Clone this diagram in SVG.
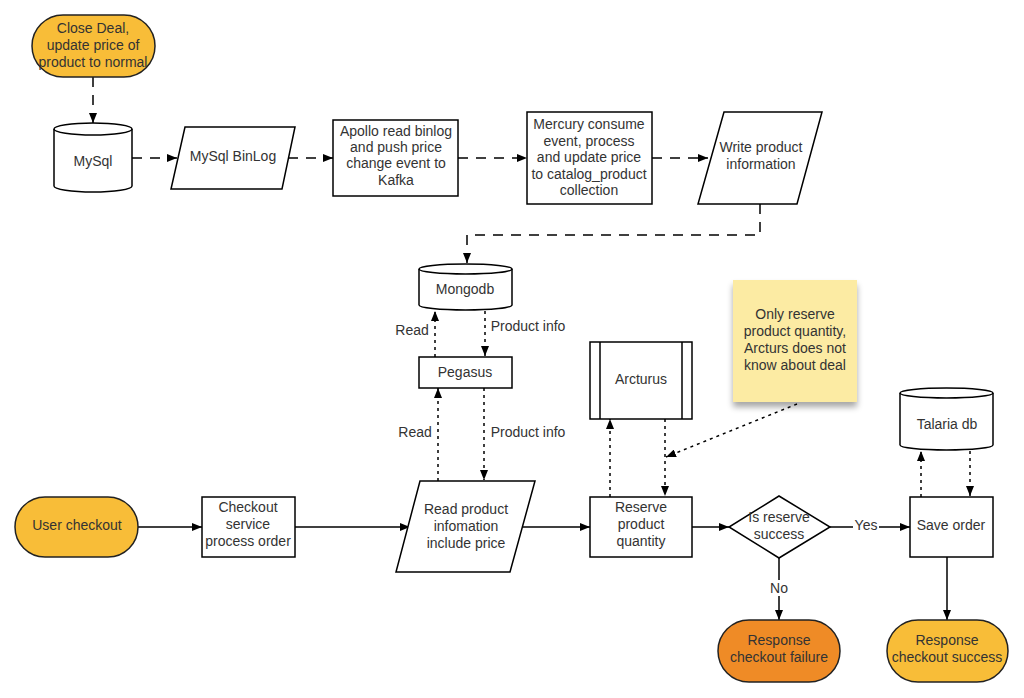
<svg xmlns="http://www.w3.org/2000/svg" width="1024" height="698" viewBox="0 0 1024 698">
<defs>
<marker id="ah" viewBox="0 0 10 8" refX="10" refY="4" markerWidth="10" markerHeight="8" markerUnits="userSpaceOnUse" orient="auto">
<path d="M0,0 L10,4 L0,8 Z" fill="#000"/>
</marker>
<filter id="sh" x="-20%" y="-20%" width="140%" height="150%">
<feGaussianBlur in="SourceAlpha" stdDeviation="3"/>
<feOffset dx="0" dy="5"/>
<feComponentTransfer><feFuncA type="linear" slope="0.35"/></feComponentTransfer>
<feMerge><feMergeNode/><feMergeNode in="SourceGraphic"/></feMerge>
</filter>
</defs>
<style>
.s{fill:#fff;stroke:#000;stroke-width:1.5}
.t{fill:#F8BD38;stroke:#222;stroke-width:1.5}
.o{fill:#EF8B26;stroke:#222;stroke-width:1.5}
text{font-family:"Liberation Sans",Arial,sans-serif;font-size:14px;fill:#333;text-anchor:middle}
.l{fill:none;stroke:#000;stroke-width:1.5}
.d{stroke-dasharray:10,8}
.p{stroke-dasharray:3,4}
</style>
<rect width="1024" height="698" fill="#fff"/>
<g id="connectors">
<path class="l d" d="M93,77 V123" marker-end="url(#ah)"/>
<path class="l d" d="M132,158 H177" marker-end="url(#ah)"/>
<path class="l d" d="M288,158 H333" marker-end="url(#ah)"/>
<path class="l d" d="M458,158 H527" marker-end="url(#ah)"/>
<path class="l d" d="M652,158 H708" marker-end="url(#ah)"/>
<path class="l d" d="M760,204 V235 H467 V263" marker-end="url(#ah)"/>
<path class="l p" d="M435,357 V311" marker-end="url(#ah)"/>
<path class="l p" d="M485,311 V356" marker-end="url(#ah)"/>
<path class="l p" d="M438,481 V388" marker-end="url(#ah)"/>
<path class="l p" d="M484,388 V480" marker-end="url(#ah)"/>
<path class="l p" d="M610,497 V419" marker-end="url(#ah)"/>
<path class="l p" d="M665,419 V496" marker-end="url(#ah)"/>
<path class="l p" d="M797,404 L666,457" marker-end="url(#ah)"/>
<path class="l p" d="M921,497 V451" marker-end="url(#ah)"/>
<path class="l p" d="M970,451 V496" marker-end="url(#ah)"/>
<path class="l" d="M138,527 H202" marker-end="url(#ah)"/>
<path class="l" d="M295,527 H410" marker-end="url(#ah)"/>
<path class="l" d="M523,527 H590" marker-end="url(#ah)"/>
<path class="l" d="M692,527 H729" marker-end="url(#ah)"/>
<path class="l" d="M830,527 H910" marker-end="url(#ah)"/>
<path class="l" d="M779,558 V620" marker-end="url(#ah)"/>
<path class="l" d="M947,557 V620" marker-end="url(#ah)"/>
<rect x="853" y="516" width="26" height="16" fill="#fff"/>
<text x="866" y="530">Yes</text>
<rect x="768" y="580" width="22" height="16" fill="#fff"/>
<text x="779" y="593">No</text>
<text x="412" y="335">Read</text>
<text x="528" y="331">Product info</text>
<text x="415" y="437">Read</text>
<text x="528" y="437">Product info</text>
</g>
<g id="close-deal">
<rect class="t" x="32" y="15" width="123" height="62" rx="31"/>
<text x="93" y="33">Close Deal,</text>
<text x="93" y="50">update price of</text>
<text x="93" y="67">product to normal</text>
</g>
<g id="mysql">
<path class="s" d="M54,129 A39,6 0 0 1 132,129 V186 A39,6 0 0 1 54,186 Z"/>
<path class="l" d="M54,129 A39,6 0 0 0 132,129"/>
<text x="93" y="166">MySql</text>
</g>
<g id="mysql-binlog">
<path class="s" d="M185,127 H295 L282,189 H171 Z"/>
<text x="233" y="161">MySql BinLog</text>
</g>
<g id="apollo">
<rect class="s" x="333" y="120" width="125" height="76"/>
<text x="396" y="136">Apollo read binlog</text>
<text x="396" y="152">and push price</text>
<text x="396" y="168">change event to</text>
<text x="396" y="185">Kafka</text>
</g>
<g id="mercury">
<rect class="s" x="527" y="112" width="125" height="92"/>
<text x="589" y="129">Mercury consume</text>
<text x="589" y="146">event, process</text>
<text x="589" y="162">and update price</text>
<text x="589" y="179">to catalog_product</text>
<text x="589" y="195">collection</text>
</g>
<g id="write-product">
<path class="s" d="M724,112 H822 L797,204 H698 Z"/>
<text x="761" y="152">Write product</text>
<text x="761" y="169">information</text>
</g>
<g id="mongodb">
<path class="s" d="M419,269 A46.5,5 0 0 1 512,269 V305 A46.5,5 0 0 1 419,305 Z"/>
<path class="l" d="M419,269 A46.5,5 0 0 0 512,269"/>
<text x="465" y="294">Mongodb</text>
</g>
<g id="pegasus">
<rect class="s" x="419" y="357" width="93" height="31"/>
<text x="465" y="377">Pegasus</text>
</g>
<g id="user-checkout">
<rect class="t" x="15" y="497" width="123" height="60" rx="30"/>
<text x="77" y="530">User checkout</text>
</g>
<g id="checkout-service">
<rect class="s" x="202" y="497" width="93" height="60"/>
<text x="248" y="512">Checkout</text>
<text x="248" y="529">service</text>
<text x="248" y="546">process order</text>
</g>
<g id="read-product">
<path class="s" d="M420,481 H535 L510,572 H396 Z"/>
<text x="466" y="514">Read product</text>
<text x="466" y="531">infomation</text>
<text x="466" y="548">include price</text>
</g>
<g id="arcturus">
<rect class="s" x="590" y="342" width="102" height="77"/>
<path class="l" d="M600,342 V419 M682,342 V419"/>
<text x="641" y="384">Arcturus</text>
</g>
<g id="note">
<rect x="733" y="280" width="124" height="122" fill="#FCEBA3" filter="url(#sh)"/>
<text x="795" y="319">Only reserve</text>
<text x="795" y="336">product quantity,</text>
<text x="795" y="353">Arcturs does not</text>
<text x="795" y="370">know about deal</text>
</g>
<g id="reserve">
<rect class="s" x="590" y="497" width="102" height="60"/>
<text x="641" y="512">Reserve</text>
<text x="641" y="529">product</text>
<text x="641" y="546">quantity</text>
</g>
<g id="decision">
<path class="s" d="M779,496 L830,527 L779,558 L729,527 Z"/>
<text x="779" y="522">Is reserve</text>
<text x="779" y="539">success</text>
</g>
<g id="talaria">
<path class="s" d="M900,393 A46.5,5 0 0 1 993,393 V445 A46.5,5 0 0 1 900,445 Z"/>
<path class="l" d="M900,393 A46.5,5 0 0 0 993,393"/>
<text x="947" y="429">Talaria db</text>
</g>
<g id="save-order">
<rect class="s" x="910" y="497" width="83" height="60"/>
<text x="951" y="530">Save order</text>
</g>
<g id="failure">
<rect class="o" x="718" y="620" width="122" height="62" rx="31"/>
<text x="779" y="645">Response</text>
<text x="779" y="662">checkout failure</text>
</g>
<g id="success">
<rect class="t" x="887" y="620" width="121" height="62" rx="31"/>
<text x="947" y="645">Response</text>
<text x="947" y="662">checkout success</text>
</g>
</svg>
